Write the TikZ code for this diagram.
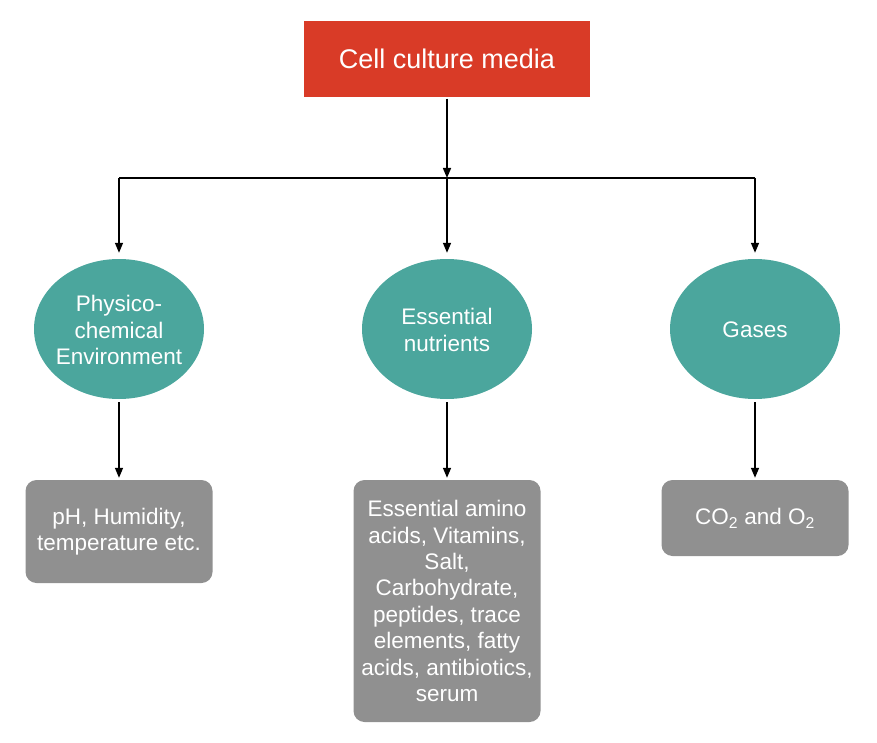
\documentclass[tikz,border=0pt]{standalone}
\usepackage{fontspec}
\setmainfont{Liberation Sans}
\usetikzlibrary{shapes.geometric,arrows.meta}
\definecolor{topred}{HTML}{D93B27}
\definecolor{ellteal}{HTML}{4BA69D}
\definecolor{boxgray}{HTML}{909090}
\begin{document}
\begin{tikzpicture}[x=1pt,y=-1pt,
  topbox/.style={fill=topred, minimum width=286pt, minimum height=76pt, inner sep=0pt,
    text=white, font=\fontsize{27}{32}\selectfont},
  ell/.style={ellipse, fill=ellteal, minimum width=170pt, minimum height=140pt, inner sep=0pt},
  elltxt/.style={inner sep=0pt, text=white, align=center, font=\fontsize{22.5}{26.6}\selectfont},
  leaf/.style={rounded corners=11pt, fill=boxgray, minimum width=187pt, inner sep=0pt,
    text=white, align=center, font=\fontsize{22.5}{26.4}\selectfont},
  conn/.style={-{Triangle[length=10pt,width=8pt]}, line width=1.5pt},
  plainline/.style={line width=1.5pt}
]
\useasboundingbox (0,0) rectangle (877,743);
\node[topbox] (cm) at (447,59) {Cell culture media};
\coordinate (j) at (447,178);
\coordinate (jl) at (119,178);
\coordinate (jr) at (755,178);
\node[ell] (phys) at (119,329) {};
\node[ell] (ess) at (447,329) {};
\node[ell] (gas) at (755,329) {};
\node[elltxt] (phys-t) at (119,330) {Physico-\\chemical\\Environment};
\node[elltxt] (ess-t) at (447,330) {Essential\\nutrients};
\node[elltxt] (gas-t) at (755,330) {Gases};
\node[leaf, minimum height=103pt] (l1) at (119,531.5) {pH, Humidity,\\temperature etc.};
\node[leaf, minimum height=242pt] (l2) at (447,601) {Essential amino\\acids, Vitamins,\\Salt,\\Carbohydrate,\\peptides, trace\\elements, fatty\\acids, antibiotics,\\serum};
\node[leaf, minimum height=76pt] (l3) at (755,518) {CO\textsubscript{2} and O\textsubscript{2}};
\draw[plainline] (jl) -- (jr);
\draw[conn, shorten <=1.5pt] (cm) -- (j);
\draw[conn, shorten >=6pt] (jl) -- (phys);
\draw[conn, shorten >=6pt] (j) -- (ess);
\draw[conn, shorten >=6pt] (jr) -- (gas);
\draw[conn, shorten <=3pt, shorten >=2pt] (phys) -- (l1);
\draw[conn, shorten <=3pt, shorten >=2pt] (ess) -- (l2);
\draw[conn, shorten <=3pt, shorten >=2pt] (gas) -- (l3);
\end{tikzpicture}
\end{document}
